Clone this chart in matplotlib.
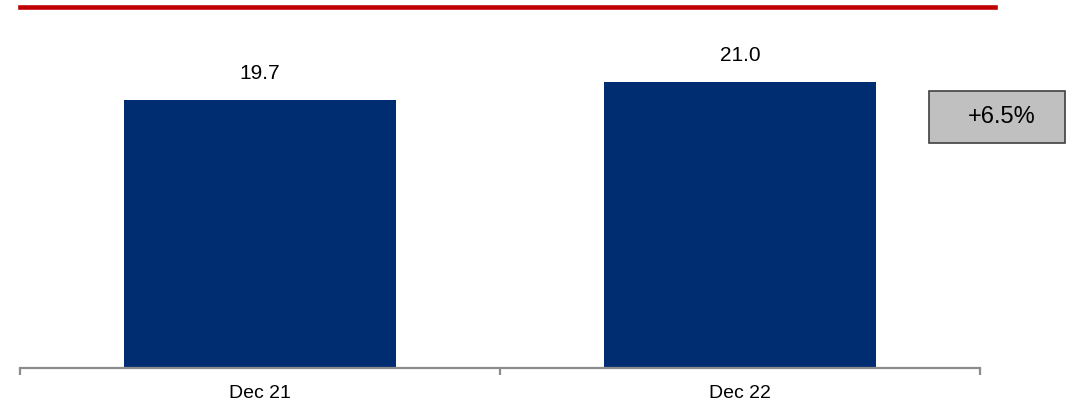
import matplotlib.pyplot as plt
from matplotlib.lines import Line2D
from matplotlib.patches import Rectangle

plt.rcParams['font.family'] = ['Liberation Sans', 'DejaVu Sans']

categories = ['Dec 21', 'Dec 22']
values = [19.7, 21.0]
growth_label = '+6.5%'

W, H = 1084, 409
fig = plt.figure(figsize=(W / 100, H / 100), dpi=100)

# axes placed in pixel terms
ax = fig.add_axes([20 / W, 41 / H, 960 / W, 348 / H])
x = range(len(categories))
ax.bar(x, values, width=0.567, color='#002D72')
ax.set_xlim(-0.5, 1.5)
ax.set_ylim(0, 348 / 13.6)

for i, v in zip(x, values):
    ax.annotate("{:.1f}".format(v), (i, v), xytext=(0, 17), textcoords='offset pixels',
                ha='center', va='bottom', fontsize=15, color='black')

for s in ['top', 'right', 'left']:
    ax.spines[s].set_visible(False)
ax.spines['bottom'].set_color('#8c8c8c')
ax.spines['bottom'].set_linewidth(1.6)
ax.set_yticks([])
ax.set_xticks(list(x))
ax.set_xticklabels(categories, fontsize=14)
ax.tick_params(axis='x', which='major', length=0, pad=12)
ax.set_xticks([-0.5, 0.5, 1.5], minor=True)
ax.tick_params(axis='x', which='minor', length=5, width=1.6, color='#8c8c8c', direction='out')

# red rule across the top
fig.add_artist(Line2D([20 / W, 995 / W], [1 - 7 / H, 1 - 7 / H], color='#C00000', lw=3.3,
                      transform=fig.transFigure))

# growth box
fig.add_artist(Rectangle((929 / W, 1 - 143 / H), 136 / W, 52 / H, transform=fig.transFigure,
                         facecolor='#C0C0C0', edgecolor='#404040', lw=1.2))
fig.text(1002 / W, 1 - 117 / H, growth_label, ha='center', va='center', fontsize=17)

plt.savefig("out.png", dpi=100)
